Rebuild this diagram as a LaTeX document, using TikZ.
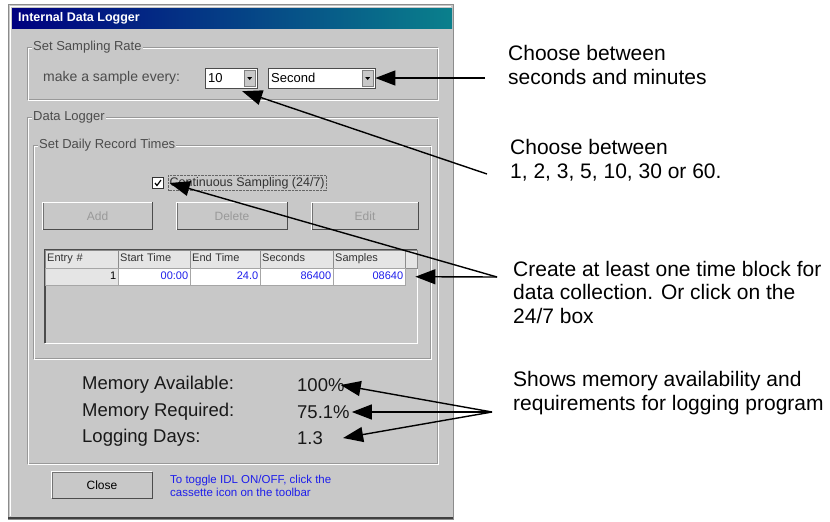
\documentclass[tikz,border=0pt]{standalone}
\usepackage{fontspec}
\setmainfont{Liberation Sans}
\usepackage{tikz}
\usetikzlibrary{arrows.meta}

\definecolor{wingray}{RGB}{200,200,200}
\definecolor{winnavy}{RGB}{0,0,128}
\definecolor{winteal}{RGB}{10,128,140}
\definecolor{linkblue}{RGB}{30,30,235}

\tikzset{
  note/.style={anchor=west, align=left, inner sep=0pt, font=\fontsize{21}{23.5}\selectfont},
  uilabel/.style={anchor=west, inner sep=1pt, text=black!70, font=\fontsize{13}{15}\selectfont},
  memlabel/.style={anchor=west, inner sep=0pt, text=black!90, font=\fontsize{18.5}{20}\selectfont},
  winbutton/.style={draw=black!55, fill=wingray, minimum height=27pt, inner sep=0pt, font=\fontsize{12}{14}\selectfont},
  hcell/.style={draw=black!45, fill=black!10, minimum height=18pt, inner sep=2pt, text height=8pt, text depth=2.5pt, anchor=north west, align=left, text=black!80, font=\fontsize{11}{13}\selectfont},
  dcell/.style={draw=black!35, fill=white, minimum height=17pt, inner sep=2pt, text height=8pt, text depth=2.5pt, anchor=north west, align=right, text=linkblue, font=\fontsize{11}{13}\selectfont},
  combo/.style={draw=black!70, fill=white, minimum height=20pt, anchor=west, inner sep=0pt},
  pointer/.style={-{Triangle[length=20pt,width=15pt]}, line width=1.4pt},
}

\begin{document}
\begin{tikzpicture}[x=1pt,y=-1pt]
               \useasboundingbox[fill=white] (0,0) rectangle (830,522);
               % dialog window
               \filldraw[fill=wingray, draw=black!45, line width=1pt] (8,4) rectangle (453,519);
               \draw[black!75, line width=2pt] (8,518) -- (453,518);
               \draw[white, line width=1pt] (10.5,516) -- (10.5,6.5) -- (451,6.5);
               \shade[left color=winnavy, right color=winteal] (12,8) rectangle (452,28);
               \node[anchor=west, inner sep=0pt, text=white, font=\bfseries\fontsize{12.5}{14}\selectfont] (title) at (18,18) {Internal Data Logger};
               % group boxes
               \draw[black!40] (27,47) rectangle (437,99);
               \draw[white] (28,48) rectangle (438,100);
               \node[uilabel, fill=wingray] (rategrp) at (32,47) {Set Sampling Rate};
               \draw[black!40] (27,117) rectangle (437,463);
               \draw[white] (28,118) rectangle (438,464);
               \node[uilabel, fill=wingray] (loggrp) at (32,117) {Data Logger};
               \draw[black!40] (33,145) rectangle (430,358);
               \draw[white] (34,146) rectangle (431,359);
               \node[uilabel, fill=wingray] (timegrp) at (38,145) {Set Daily Record Times};
               % sampling rate
               \node[uilabel, font=\fontsize{14}{16}\selectfont] (every) at (42,78) {make a sample every:};
               \node[combo, minimum width=52pt] (numbox) at (205,78) {};
               \node[uilabel, text=black] (numval) at (207,78) {10};
               \node[draw=black!50, fill=wingray, minimum width=11pt, minimum height=16pt, inner sep=0pt, anchor=east] (numbtn) at ([xshift=-2pt]numbox.east) {};
               \fill (numbtn.center) ++(-2.5,-1) -- ++(5,0) -- ++(-2.5,3) -- cycle;
               \node[combo, minimum width=107pt] (secbox) at (268,78) {};
               \node[uilabel, text=black] (secval) at (270,78) {Second};
               \node[draw=black!50, fill=wingray, minimum width=11pt, minimum height=16pt, inner sep=0pt, anchor=east] (secbtn) at ([xshift=-2pt]secbox.east) {};
               \fill (secbtn.center) ++(-2.5,-1) -- ++(5,0) -- ++(-2.5,3) -- cycle;
               % record times
               \node[draw=black!80, fill=white, minimum size=11pt, inner sep=0pt] (chk) at (158,183) {};
               \draw[line width=1.2pt] ([xshift=-3pt]chk.center) -- ++(2,2.5) -- ++(4,-5.5);
               \node[anchor=west, inner sep=1.5pt, text=black!80, font=\fontsize{12.5}{14}\selectfont] (cont) at (168,183) {Continuous Sampling (24/7)};
               \draw[densely dotted, black!60] (cont.south west) rectangle (cont.north east);
               \node[winbutton, minimum width=109pt, text=black!40] (add) at (97.5,216) {Add};
               \node[winbutton, minimum width=110pt, text=black!40] (delete) at (232,216) {Delete};
               \node[winbutton, minimum width=106pt, text=black!40] (edit) at (365,216) {Edit};
               \node[winbutton, minimum width=100pt, minimum height=26pt] (close) at (102,485) {Close};
               \foreach \b in {add,delete,edit,close} {
                 \draw[white, line width=1pt] (\b.south west) -- (\b.north west) -- (\b.north east);
                 \draw[black!70, line width=1.4pt] (\b.south west) -- (\b.south east) -- (\b.north east);
               }
               % table
               \draw[black!70, line width=1.5pt] (45,343) -- (45,250) -- (417,250);
               \draw[white] (45,343) -- (417,343) -- (417,250);
               \node[hcell, text width=69pt] (h1) at (45,250) {Entry \#};
               \node[hcell, text width=68pt] (h2) at (118,250) {Start Time};
               \node[hcell, text width=66pt] (h3) at (190,250) {End Time};
               \node[hcell, text width=69pt] (h4) at (260,250) {Seconds};
               \node[hcell, text width=68pt] (h5) at (333,250) {Samples};
               \node[hcell, text width=8pt] (h6) at (405,250) {};
               \node[dcell, fill=black!10, text=black, text width=69pt] (c1) at (45,268) {1};
               \node[dcell, text width=68pt] (c2) at (118,268) {00:00};
               \node[dcell, text width=66pt] (c3) at (190,268) {24.0};
               \node[dcell, text width=69pt] (c4) at (260,268) {86400};
               \node[dcell, text width=68pt] (c5) at (333,268) {08640};
               % memory
               \node[memlabel] (memavail) at (82,385) {Memory Available:};
               \node[memlabel] (availval) at (297,385) {100\%};
               \node[memlabel] (memreq) at (82,412) {Memory Required:};
               \node[memlabel] (reqval) at (297,412) {75.1\%};
               \node[memlabel] (logdays) at (82,438) {Logging Days:};
               \node[memlabel] (daysval) at (297,438) {1.3};
               \node[anchor=west, align=left, inner sep=0pt, text=linkblue, font=\fontsize{11.5}{13}\selectfont] (hint) at (170,486) {To toggle IDL ON/OFF, click the\\cassette icon on the toolbar};
               % notes and pointers
               \node[note] (rateNote) at (508,65) {Choose between\\seconds and minutes};
               \node[note] (stepNote) at (510,160) {Choose between\\1, 2, 3, 5, 10, 30 or 60.};
               \node[note] (blockNote) at (513,292) {Create at least one time block for\\data collection. Or click on the\\24/7 box};
               \node[note] (memNote) at (513,393) {Shows memory availability and\\requirements for logging program};
               \coordinate (rateFrom) at (485,78);
               \coordinate (stepFrom) at (487,174);
               \coordinate (blockFrom) at (497,277);
               \coordinate (memFrom) at (492,412);
               \draw[pointer] (rateFrom) -- (secbox.east);
               \draw[pointer] (stepFrom) -- ([xshift=11pt,yshift=-3pt]numbox.south);
               \draw[pointer] (blockFrom) -- ([xshift=6pt]chk.east);
               \draw[pointer] (blockFrom) -- ([xshift=10pt]c5.east);
               \draw[pointer] (memFrom) -- ([xshift=-4pt]availval.east);
               \draw[pointer] (memFrom) -- ([xshift=2pt]reqval.east);
               \draw[pointer] (memFrom) -- ([xshift=20pt]daysval.east);
\end{tikzpicture}
\end{document}
